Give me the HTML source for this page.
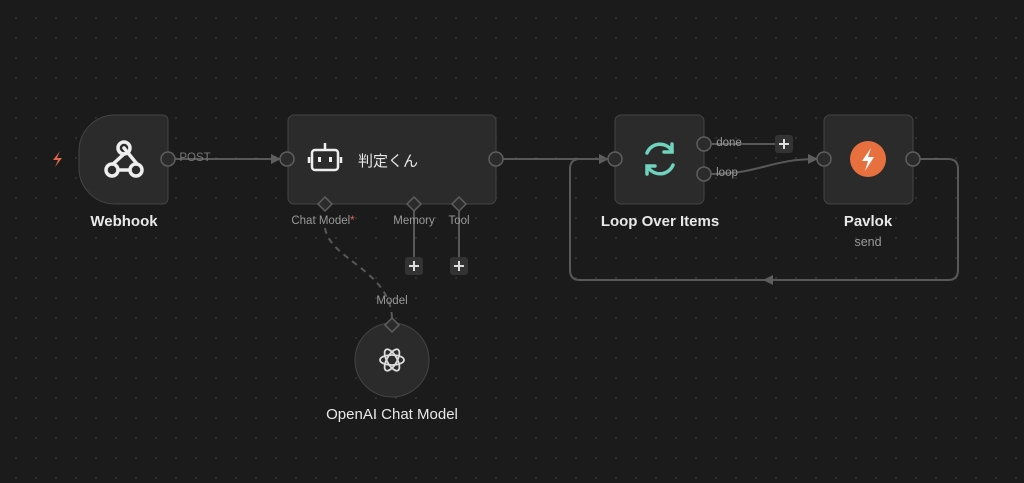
<!DOCTYPE html>
<html><head><meta charset="utf-8"><style>
html,body{margin:0;padding:0}
body{width:1024px;height:483px;overflow:hidden;background:#1b1b1b;
background-image:radial-gradient(circle,#333 0.8px,transparent 1.2px);background-size:20px 20px;background-position:6px 8px;
font-family:"Liberation Sans","Noto Sans CJK JP",sans-serif;position:relative}
.t{position:absolute;color:#e8e8e8;font-size:15px;font-weight:bold;transform:translateX(-50%);white-space:nowrap}
.s{position:absolute;color:#9a9a9a;font-size:11.5px;transform:translateX(-50%);white-space:nowrap}
</style></head><body>
<svg width="1024" height="483" style="position:absolute;left:0;top:0">
<defs><marker id="a" markerWidth="10" markerHeight="10" refX="9" refY="5" orient="auto" markerUnits="userSpaceOnUse"><path d="M0,0 L10,5 L0,10z" fill="#5e5e5e"/></marker></defs>
<g stroke="#585858" stroke-width="2" fill="none">
<path d="M175,159 H280" marker-end="url(#a)"/>
<path d="M503,159 H608" marker-end="url(#a)"/>
<path d="M711,144 H775"/>
<path d="M711,174 C760,174 770,159 817,159" marker-end="url(#a)"/>
<path d="M920,159 H948 Q958,159 958,169 V270 Q958,280 948,280 H580 Q570,280 570,270 V169 Q570,159 580,159 H608" />
<path d="M414,211 V258 M459,211 V258"/>
<path d="M325,228 C330,260 390,270 392,318" stroke-dasharray="6,5"/>
</g>
<path d="M773,275 L763,280 L773,285z" fill="#5e5e5e"/>
<path d="M115,115 H162 Q168,115 168,121 V198 Q168,204 162,204 H115 A36,36 0 0 1 79,168 V151 A36,36 0 0 1 115,115z" fill="#2b2b2b" stroke="#444" stroke-width="1"/>
<rect x="288" y="115" width="208" height="89" rx="6" fill="#2b2b2b" stroke="#444"/>
<rect x="615" y="115" width="89" height="89" rx="6" fill="#2b2b2b" stroke="#444"/>
<rect x="824" y="115" width="89" height="89" rx="6" fill="#2b2b2b" stroke="#444"/>
<circle cx="392" cy="360" r="37" fill="#2b2b2b" stroke="#444"/>
<g fill="#2b2b2b" stroke="#5e5e5e" stroke-width="1.5">
<circle cx="168" cy="159" r="7"/><circle cx="287" cy="159" r="7"/><circle cx="496" cy="159" r="7"/>
<circle cx="615" cy="159" r="7"/><circle cx="704" cy="144" r="7"/><circle cx="704" cy="174" r="7"/>
<circle cx="824" cy="159" r="7"/><circle cx="913" cy="159" r="7"/>
<path d="M325,197 L332,204 L325,211 L318,204z"/><path d="M414,197 L421,204 L414,211 L407,204z"/><path d="M459,197 L466,204 L459,211 L452,204z"/>
<path d="M392,318 L399,325 L392,332 L385,325z"/>
</g>
<g fill="#333" ><rect x="405" y="257" width="18" height="18" rx="3"/><rect x="450" y="257" width="18" height="18" rx="3"/><rect x="775" y="135" width="18" height="18" rx="3"/></g>
<g stroke="#ddd" stroke-width="2"><path d="M409,266 h10 M414,261 v10 M454,266 h10 M459,261 v10 M779,144 h10 M784,139 v10"/></g>
<path d="M60,151 L53,160 H58 L55,167 L62,158 H57z" fill="#e4654b"/>
<g stroke="#eee" stroke-width="3.5" fill="none" stroke-linecap="round">
<circle cx="124" cy="148" r="6"/><circle cx="112" cy="170" r="6"/><circle cx="136" cy="170" r="6"/>
<path d="M118,170 H130 M124,154 L113,164 M124,148 L137,164"/>
</g>
<g stroke="#eee" stroke-width="2.5" fill="none"><rect x="312" y="150" width="26" height="20" rx="3"/><path d="M325,150 V143 M309,157 V163 M341,157 V163"/></g>
<rect x="318" y="157" width="3" height="5" fill="#eee"/><rect x="329" y="157" width="3" height="5" fill="#eee"/>
<g stroke="#6fd3bd" stroke-width="3.5" fill="none" stroke-linecap="round">
<path d="M647,153 A14,14 0 0 1 672,151"/><path d="M673,165 A14,14 0 0 1 648,167"/>
<path d="M672,144 V152 H664"/><path d="M647,174 V166 H655"/></g>
<circle cx="868" cy="159" r="18" fill="#e8703f"/>
<path d="M871,148 L862,161 H868 L865,171 L874,157 H868z" fill="#fff"/>
<g stroke="#ddd" stroke-width="1.8" fill="none">
<ellipse cx="392" cy="360" rx="12" ry="5"/><ellipse cx="392" cy="360" rx="12" ry="5" transform="rotate(60 392 360)"/><ellipse cx="392" cy="360" rx="12" ry="5" transform="rotate(120 392 360)"/></g>
</svg>
<div class="s" style="left:195px;top:152px;color:#777">POST</div>
<div class="s" style="left:729px;top:137px">done</div>
<div class="s" style="left:727px;top:167px">loop</div>
<div class="t" style="left:124px;top:213px">Webhook</div>
<div style="position:absolute;left:358px;top:150px;color:#e8e8e8;font-size:15px">判定くん</div>
<div class="s" style="left:323px;top:215px">Chat Model<span style="color:#e4654b">*</span></div>
<div class="s" style="left:414px;top:215px">Memory</div>
<div class="s" style="left:459px;top:215px">Tool</div>
<div class="s" style="left:392px;top:295px">Model</div>
<div class="t" style="left:392px;top:406px;font-weight:normal;font-size:15px">OpenAI Chat Model</div>
<div class="t" style="left:660px;top:213px">Loop Over Items</div>
<div class="t" style="left:868px;top:213px">Pavlok</div>
<div class="s" style="left:868px;top:235px;font-size:12.5px">send</div>
</body></html>
